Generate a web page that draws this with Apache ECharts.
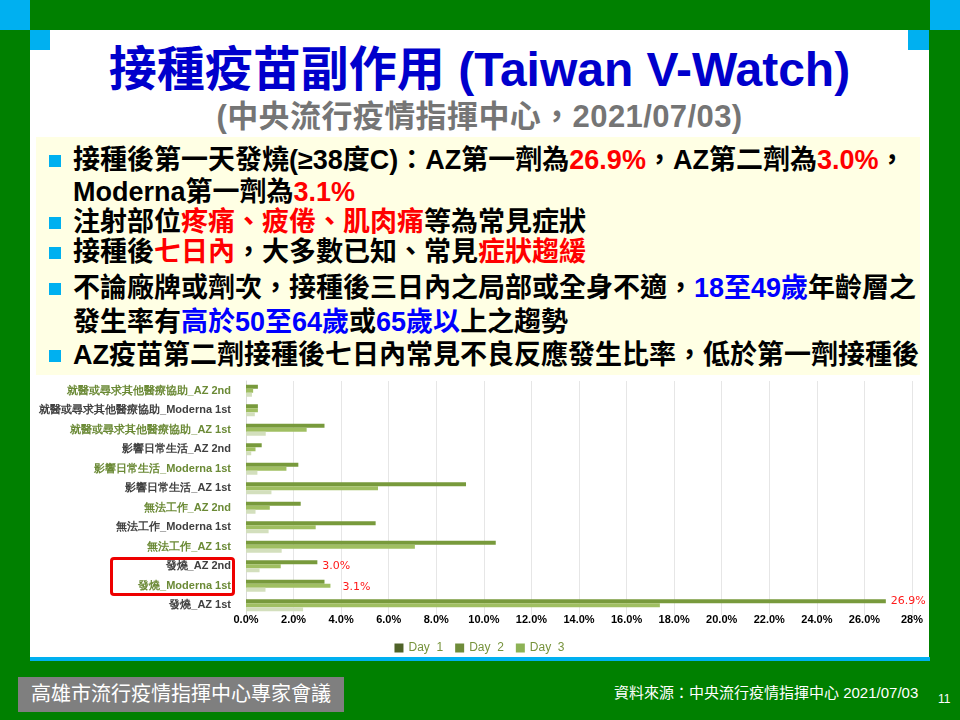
<!DOCTYPE html>
<html>
<head>
<meta charset="utf-8">
<script src="https://cdn.jsdelivr.net/npm/echarts/dist/echarts.min.js"></script>
<style>
  html, body { margin:0; padding:0; }
  body { width:960px; height:720px; background:#008000; position:relative; overflow:hidden;
         font-family:"Liberation Sans","Noto Sans CJK TC",sans-serif; }
  .a { position:absolute; }
  .cy { background:#00b0f0; }
  .line { position:absolute; left:73px; height:30px; line-height:30px; font-size:27px; font-weight:bold; color:#000; white-space:nowrap; }
  .bul { position:absolute; left:49px; width:12px; height:12px; background:#00b0f0; }
  .r { color:#ff0000; }
  .b { color:#0000ff; }
</style>
</head>
<body>
  <div class="a cy" style="left:0;top:0;width:30px;height:30px"></div>
  <div class="a cy" style="left:930px;top:0;width:30px;height:30px"></div>
  <div class="a" style="left:30px;top:30px;width:899px;height:627px;background:#fff"></div>
  <div class="a cy" style="left:30px;top:30px;width:20px;height:20px"></div>
  <div class="a cy" style="left:908px;top:30px;width:21px;height:20px"></div>
  <div class="a cy" style="left:30px;top:657px;width:900px;height:4px"></div>

  <div class="a" style="left:30px;top:40px;width:899px;text-align:center;font-size:48px;line-height:60px;font-weight:bold;color:#0000cc;white-space:nowrap">接種疫苗副作用 (Taiwan V-Watch)</div>
  <div class="a" style="left:30px;top:99px;width:899px;text-align:center;font-size:31px;line-height:36px;font-weight:bold;color:#757575;white-space:nowrap;letter-spacing:0.4px">(中央流行疫情指揮中心，2021/07/03)</div>

  <div class="a" style="left:36px;top:137px;width:884px;height:238px;background:#ffffe4"></div>
  <div class="bul" style="top:155px"></div>
  <div class="line" style="top:145px">接種後第一天發燒(≥38度C)：AZ第一劑為<span class="r">26.9%</span>，AZ第二劑為<span class="r">3.0%</span>，</div>
  <div class="line" style="top:177px">Moderna第一劑為<span class="r">3.1%</span></div>
  <div class="bul" style="top:217px"></div>
  <div class="line" style="top:207px">注射部位<span class="r">疼痛、疲倦、肌肉痛</span>等為常見症狀</div>
  <div class="bul" style="top:247px"></div>
  <div class="line" style="top:237px">接種後<span class="r">七日內</span>，大多數已知、常見<span class="r">症狀趨緩</span></div>
  <div class="bul" style="top:283px"></div>
  <div class="line" style="top:273px">不論廠牌或劑次，接種後三日內之局部或全身不適，<span class="b">18至49歲</span>年齡層之</div>
  <div class="line" style="top:307px">發生率有<span class="b">高於50至64歲</span>或<span class="b">65歲以</span>上之趨勢</div>
  <div class="bul" style="top:350px"></div>
  <div class="line" style="top:340px">AZ疫苗第二劑接種後七日內常見不良反應發生比率，低於第一劑接種後</div>

  <div id="chart" class="a" style="left:30px;top:375px;width:899px;height:282px"></div>
  <div class="a" style="left:110px;top:557px;width:125px;height:39px;border:3px solid #ee0000;border-radius:4px;box-sizing:border-box"></div>

  <div class="a" style="left:18px;top:677px;width:326px;height:35px;background:#7f7f7f"></div>
  <div class="a" style="left:18px;top:677px;width:326px;height:35px;line-height:35px;text-align:center;color:#fff;font-size:20px;white-space:nowrap">高雄市流行疫情指揮中心專家會議</div>
  <div class="a" style="left:614px;top:683px;height:20px;line-height:20px;color:#fff;font-size:15px;white-space:nowrap">資料來源：中央流行疫情指揮中心 2021/07/03</div>
  <div class="a" style="left:938px;top:691px;height:16px;line-height:16px;color:#fff;font-size:12px">11</div>

<script>
const categories = [
  '就醫或尋求其他醫療協助_AZ 2nd',
  '就醫或尋求其他醫療協助_Moderna 1st',
  '就醫或尋求其他醫療協助_AZ 1st',
  '影響日常生活_AZ 2nd',
  '影響日常生活_Moderna 1st',
  '影響日常生活_AZ 1st',
  '無法工作_AZ 2nd',
  '無法工作_Moderna 1st',
  '無法工作_AZ 1st',
  '發燒_AZ 2nd',
  '發燒_Moderna 1st',
  '發燒_AZ 1st'
];
const seriesNames = ['Day 1', 'Day 2', 'Day 3'];
const day1 = [0.5, 0.5, 3.3, 0.66, 2.2, 9.25, 2.3, 5.45, 10.5, 3.0, 3.3, 26.9];
const day2 = [0.3, 0.5, 2.55, 0.4, 1.7, 5.55, 1.0, 2.93, 7.1, 1.46, 3.55, 17.4];
const day3 = [0.25, 0.37, 0.83, 0.22, 0.48, 1.07, 0.4, 0.95, 1.5, 0.57, 0.82, 2.4];
const calloutText = ['', '', '', '', '', '', '', '', '', '3.0%', '3.1%', '26.9%'];
const axisMax = 28;
const axisStep = 2;

const calloutStyle = {
  9:  { distance: 5,  offset: [0, 4] },
  10: { distance: 18, offset: [0, 5] },
  11: { distance: 5,  offset: [0, 0] }
};

const chart = echarts.init(document.getElementById('chart'));
const d1 = day1.map((v, i) => calloutText[i] ? {
  value: v,
  label: Object.assign({
    show: true, position: 'right', formatter: calloutText[i],
    color: '#ff1a1a', fontSize: 11, fontFamily: 'DejaVu Sans'
  }, calloutStyle[i])
} : v);

chart.setOption({
  animation: false,
  backgroundColor: 'transparent',
  grid: { left: 216, right: 17, top: 6, bottom: 42, containLabel: false },
  legend: {
    left: 'center', top: 262, icon: 'rect', itemWidth: 9, itemHeight: 9, itemGap: 12,
    textStyle: { color: '#77933c', fontSize: 12, fontFamily: 'Liberation Sans' },
    formatter: n => n.replace(' ', '  '),
    data: [
      { name: seriesNames[0], itemStyle: { color: '#4f6228' } },
      { name: seriesNames[1], itemStyle: { color: '#6f8c3a' } },
      { name: seriesNames[2], itemStyle: { color: '#8db255' } }
    ]
  },
  xAxis: {
    type: 'value', min: 0, max: axisMax, interval: axisStep,
    axisLine: { show: false }, axisTick: { show: false },
    splitLine: { lineStyle: { color: '#e6e6e6', width: 1 } },
    axisLabel: {
      margin: -1, fontSize: 11, fontWeight: 'bold', color: '#000', fontFamily: 'Liberation Sans',
      formatter: v => v === axisMax ? v + '%' : v.toFixed(1) + '%'
    }
  },
  yAxis: {
    type: 'category', data: categories, inverse: true,
    axisTick: { show: false },
    axisLine: { show: true, lineStyle: { color: '#d9d9d9' } },
    axisLabel: {
      margin: 15, fontSize: 11, fontWeight: 'bold', fontFamily: 'Liberation Sans',
      color: (v, i) => (i % 2 === 0 ? '#6b8a36' : '#404040')
    }
  },
  series: [
    { name: seriesNames[0], type: 'bar', data: d1, barWidth: 4, barGap: '0%', itemStyle: { color: '#789a3c' } },
    { name: seriesNames[1], type: 'bar', data: day2, barWidth: 4, barGap: '0%', itemStyle: { color: '#a0bf62' } },
    { name: seriesNames[2], type: 'bar', data: day3, barWidth: 4, barGap: '0%', itemStyle: { color: '#d3dfbd' } }
  ]
});
</script>
</body>
</html>
